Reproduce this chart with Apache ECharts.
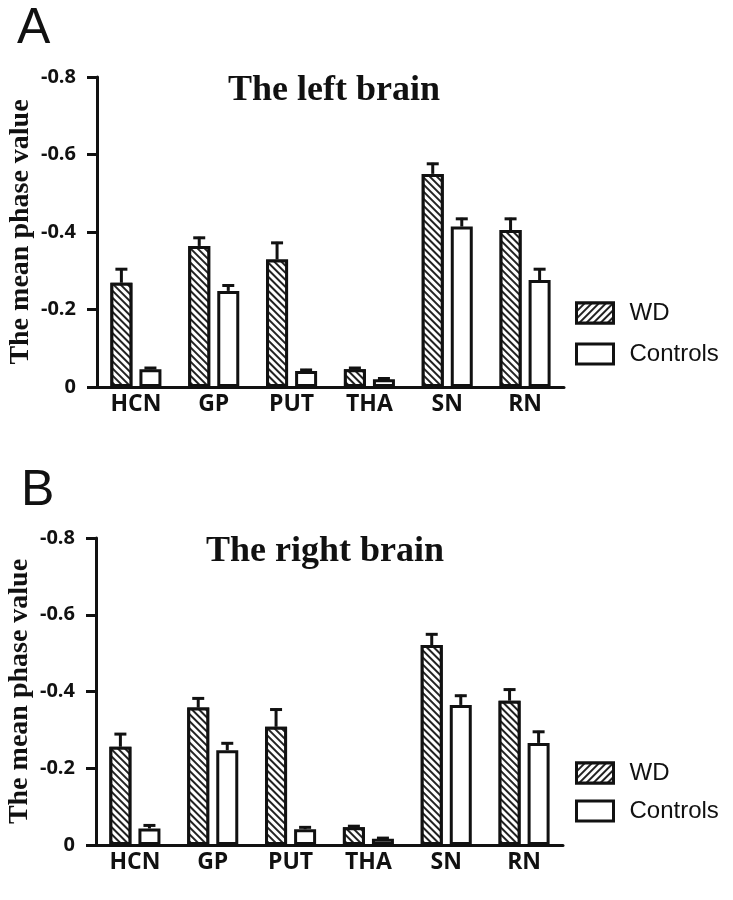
<!DOCTYPE html>
<html>
<head>
<meta charset="utf-8">
<script src="https://cdn.jsdelivr.net/npm/echarts@6/dist/echarts.min.js"></script>
<style>
html,body{margin:0;padding:0;background:#fff;}
#chart{width:733px;height:900px;}
</style>
</head>
<body>
<div id="chart"></div>
<script>
// ---- data ----
const categories = ['HCN', 'GP', 'PUT', 'THA', 'SN', 'RN'];
const yTicks = [-0.8, -0.6, -0.4, -0.2, 0];
// left brain (panel A): mean phase values and error (SEM magnitude)
const leftWD = [-0.269, -0.364, -0.329, -0.046, -0.550, -0.405];
const leftWDErr = [0.035, 0.021, 0.043, 0.003, 0.026, 0.029];
const leftCtrl = [-0.046, -0.248, -0.041, -0.020, -0.414, -0.276];
const leftCtrlErr = [0.003, 0.014, 0.003, 0.002, 0.020, 0.028];
// right brain (panel B)
const rightWD = [-0.256, -0.358, -0.308, -0.046, -0.521, -0.376];
const rightWDErr = [0.033, 0.024, 0.045, 0.003, 0.028, 0.029];
const rightCtrl = [-0.043, -0.247, -0.041, -0.016, -0.365, -0.266];
const rightCtrlErr = [0.008, 0.018, 0.005, 0.002, 0.024, 0.029];

const seriesNames = ['WD', 'Controls'];
const panelTitles = ['The left brain', 'The right brain'];
const panelLetters = ['A', 'B'];
const yName = 'The mean phase value';

// ---- styling ----
const INK = '#111';
const BAR_W = 22;
const GAP_PCT = 0.32;
const OFFSET = (BAR_W + BAR_W * GAP_PCT) / 2;
const hatch = (rot) => ({
  symbol: 'rect', symbolSize: 1, color: '#222', backgroundColor: '#fff',
  dashArrayX: [1, 0], dashArrayY: [1.3, 2.1], rotation: rot
});

const chart = echarts.init(document.getElementById('chart'));

const grids = [
  { left: 97, top: 77, width: 467, height: 310, outerBoundsMode: 'none', containLabel: false },
  { left: 96, top: 538, width: 467, height: 307, outerBoundsMode: 'none', containLabel: false }
];

function xAxisFor(i) {
  return {
    type: 'category', gridIndex: i, data: categories,
    axisLine: { lineStyle: { color: INK, width: 3 } },
    axisTick: { show: false },
    axisLabel: { color: INK, fontFamily: 'Open Sans', fontWeight: 'bold', fontSize: 23, margin: 6 }
  };
}
function yAxisFor(i) {
  return {
    type: 'value', gridIndex: i, min: yTicks[0], max: yTicks[yTicks.length - 1], interval: 0.2,
    inverse: true,
    name: yName, nameLocation: 'middle', nameGap: 62, nameMoveOverlap: false,
    nameTextStyle: { fontFamily: 'Liberation Serif', fontWeight: 'bold', fontSize: 28, color: INK },
    splitLine: { show: false },
    axisLine: { show: true, lineStyle: { color: INK, width: 3 } },
    axisTick: { show: true, length: 10, lineStyle: { color: INK, width: 3 } },
    axisLabel: {
      color: INK, fontFamily: 'Open Sans', fontWeight: 'bold', fontSize: 20, margin: 21,
      formatter: v => (Math.abs(v) < 1e-9 ? '0' : v.toFixed(1))
    }
  };
}

function barSeries(name, data, gi, isWD) {
  return {
    type: 'bar', name: name, xAxisIndex: gi, yAxisIndex: gi, data: data,
    barWidth: BAR_W, barGap: (GAP_PCT * 100) + '%', z: 3,
    itemStyle: Object.assign({ color: '#fff', borderColor: INK, borderWidth: 3 },
      isWD ? { decal: hatch(Math.PI / 4) } : {}),
    emphasis: { disabled: true }
  };
}
function errSeries(name, means, errs, gi, sign) {
  return {
    type: 'custom', name: name, xAxisIndex: gi, yAxisIndex: gi, z: 2,
    data: means.map((m, i) => [i, m, errs[i]]),
    renderItem: function (params, api) {
      const i = api.value(0), v = api.value(1), e = api.value(2);
      const p0 = api.coord([i, v]);
      const p1 = api.coord([i, v - e]);
      const x = p0[0] + sign * OFFSET;
      const st = { stroke: INK, lineWidth: 3 };
      return {
        type: 'group', children: [
          { type: 'line', shape: { x1: x, y1: p0[1], x2: x, y2: p1[1] - 1 }, style: st },
          { type: 'line', shape: { x1: x - 6, y1: p1[1], x2: x + 6, y2: p1[1] }, style: st }
        ]
      };
    }
  };
}

function legendFor(top, gap) {
  return {
    orient: 'vertical', left: 570, top: top, itemWidth: 37, itemHeight: 20, itemGap: gap,
    selectedMode: false,
    itemStyle: { borderColor: INK, borderWidth: 3 },
    textStyle: { fontFamily: 'Liberation Sans', fontSize: 24, color: INK, lineHeight: 20, padding: [0, 0, 0, 11] },
    data: [
      { name: seriesNames[0], icon: 'rect', itemStyle: { color: '#fff', decal: hatch(-Math.PI / 4) } },
      { name: seriesNames[1], icon: 'rect', itemStyle: { color: '#fff' } }
    ]
  };
}

const texts = [
  { t: panelLetters[0], x: 17, y: 29, font: 'normal 50px "Liberation Sans"' },
  { t: panelLetters[1], x: 21, y: 491, font: 'normal 50px "Liberation Sans"' },
  { t: panelTitles[0], x: 228, y: 91, font: 'bold 36px "Liberation Serif"' },
  { t: panelTitles[1], x: 206, y: 552, font: 'bold 36px "Liberation Serif"' }
];

chart.setOption({
  backgroundColor: '#fff',
  animation: false,
  grid: grids,
  xAxis: [xAxisFor(0), xAxisFor(1)],
  yAxis: [yAxisFor(0), yAxisFor(1)],
  legend: [legendFor(296, 17), legendFor(756, 14)],
  graphic: texts.map(o => ({
    type: 'text', x: o.x, y: o.y, silent: true,
    style: { text: o.t, font: o.font, fill: INK, verticalAlign: 'middle' }
  })),
  series: [
    barSeries(seriesNames[0], leftWD, 0, true),
    barSeries(seriesNames[1], leftCtrl, 0, false),
    errSeries(seriesNames[0], leftWD, leftWDErr, 0, -1),
    errSeries(seriesNames[1], leftCtrl, leftCtrlErr, 0, 1),
    barSeries(seriesNames[0], rightWD, 1, true),
    barSeries(seriesNames[1], rightCtrl, 1, false),
    errSeries(seriesNames[0], rightWD, rightWDErr, 1, -1),
    errSeries(seriesNames[1], rightCtrl, rightCtrlErr, 1, 1)
  ]
});
</script>
</body>
</html>
